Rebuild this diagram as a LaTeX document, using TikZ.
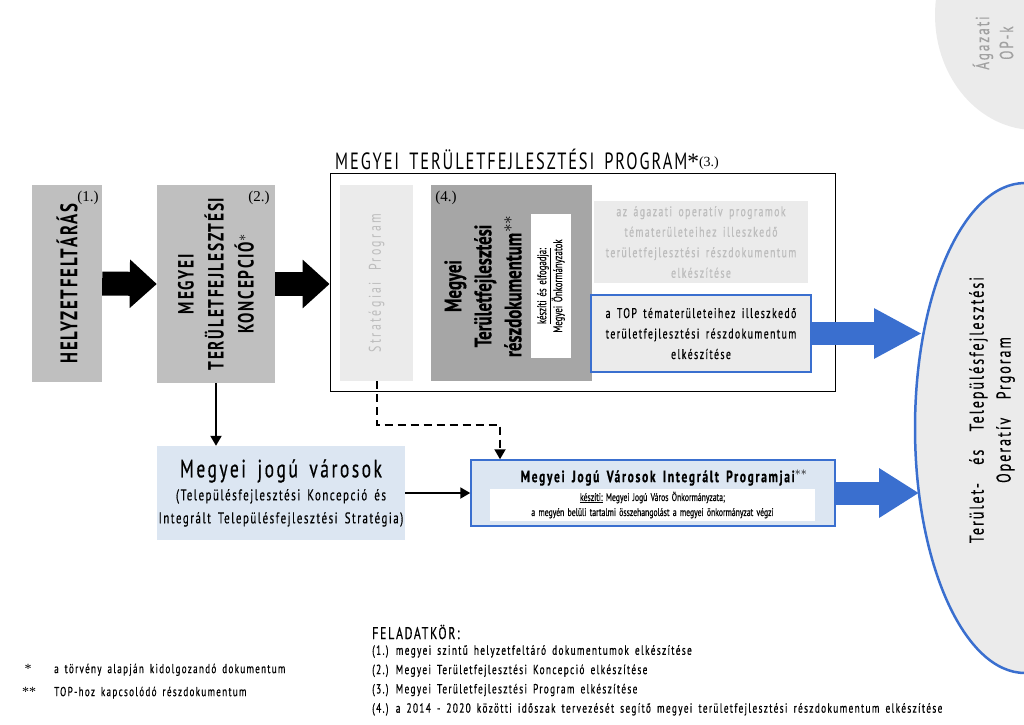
\documentclass[tikz,border=0pt]{standalone}
\usepackage{fontspec}
\setmainfont{PT Sans}[FakeStretch=0.7,WordSpace=1.6,LetterSpace=10,FakeBold=0.5]
\newfontfamily\tightfont{PT Sans}[FakeStretch=0.7,WordSpace=1.6,FakeBold=0.5]
\newfontfamily\capsfont{PT Sans}[FakeStretch=0.7,LetterSpace=8,WordSpace=1.6]
\newfontfamily\widefont{PT Sans}[FakeStretch=0.7,LetterSpace=14,WordSpace=2]
\newfontfamily\numfont{Liberation Serif}
\usetikzlibrary{shapes.geometric,arrows.meta,positioning}
\definecolor{tfgray}{HTML}{BFBFBF}
\definecolor{tfdark}{HTML}{A6A6A6}
\definecolor{tflight}{HTML}{EBEBEB}
\definecolor{tftext}{HTML}{BDBDBD}
\definecolor{tfblue}{HTML}{3A6FCF}
\definecolor{tfsky}{HTML}{DCE6F2}
\tikzstyle{phase}=[rectangle,rotate=90,fill=tfgray,text centered,align=center,inner sep=0pt]
\tikzstyle{faded}=[rectangle,fill=tflight,text=tftext,text centered,align=center,inner sep=0pt]
\tikzstyle{topbox}=[rectangle,draw=tfblue,line width=1.8pt,fill=tflight,text centered,align=center,inner sep=0pt]
\tikzstyle{city}=[rectangle,fill=tfsky,text centered,align=center,inner sep=0pt]
\tikzstyle{num}=[font=\numfont\fontsize{15}{17}\selectfont,inner sep=0pt]
\tikzstyle{block}=[line width=24pt,-{Triangle[length=27pt,width=47pt]}]
\tikzstyle{bluearrow}=[tfblue,line width=23pt,-{Triangle[length=48pt,width=47pt]}]
\tikzstyle{arrow}=[line width=2pt,-{Triangle[length=10pt,width=11pt]}]
\tikzstyle{dasharrow}=[line width=2pt,dash pattern=on 8pt off 5pt,-{Triangle[length=10pt,width=11pt]}]

\begin{document}
\begin{tikzpicture}[x=1pt,y=-1pt]
\useasboundingbox (0,0) rectangle (1024,724);
\node(opk)[ellipse,fill=tflight,minimum width=200pt,minimum height=230pt] at (1035,15){};
\node(opktext)[rotate=90,align=center,text=tftext!85!black,font=\fontsize{19}{24}\selectfont] at (993,43){Ágazati\\OP-k};
\node(tpo)[ellipse,draw=tfblue,line width=2.5pt,fill=tflight,minimum width=220pt,minimum height=490pt] at (1025,428){};
\node(tpotext)[rotate=90,align=center,font=\fontsize{20}{27}\selectfont] at (992,410){Terület-\ \ és\ \ Településfejlesztési\\Operatív\ \ Prgoram};

\node(helyzet)[phase,minimum width=197pt,minimum height=70pt,font=\capsfont\bfseries\fontsize{24}{30}\selectfont] at (67,283.5){HELYZETFELTÁRÁS};
\node(koncepcio)[phase,minimum width=198pt,minimum height=118pt,font=\capsfont\bfseries\fontsize{22}{30}\selectfont] at (216,284){MEGYEI\\TERÜLETFEJLESZTÉSI\\KONCEPCIÓ$^{*}$};
\node(n1)[num] at (88,198){(1.)};
\node(n2)[num] at (259,198){(2.)};

\node(mtp)[draw,line width=0.8pt,minimum width=505pt,minimum height=218pt] at (582.5,282){};
\node(mtptitle)[anchor=south west,inner sep=0pt,font=\capsfont\fontsize{23.5}{26}\selectfont] at (335,170){MEGYEI TERÜLETFEJLESZTÉSI PROGRAM{\numfont*}\raisebox{3pt}{\numfont\fontsize{14}{16}\selectfont(3.)}};
\node(strat)[faded,rotate=90,minimum width=196pt,minimum height=73pt,font=\widefont\fontsize{17}{18}\selectfont] at (376.5,283){Stratégiai Program};
\node(resz)[rectangle,fill=tfdark,minimum width=161pt,minimum height=196pt] at (511.5,283){};
\node(resztext)[rotate=90,align=center,font=\tightfont\bfseries\fontsize{24}{30}\selectfont] at (483,286){Megyei\\Területfejlesztési\\részdokumentum$^{**}$};
\node(n4)[num] at (446,198){(4.)};
\node(keszit)[rectangle,rotate=90,fill=white,minimum width=144pt,minimum height=40pt,inner sep=0pt,align=center,font=\tightfont\fontsize{12.5}{16}\selectfont] at (551,286){\underline{készíti és elfogadja:}\\Megyei Önkormányzatok};
\node(agazati)[faded,minimum width=214pt,minimum height=82pt,font=\fontsize{14}{20.5}\selectfont] at (701,242){az ágazati operatív programok\\tématerületeihez illeszkedő\\területfejlesztési részdokumentum\\elkészítése};
\node(top)[topbox,minimum width=220pt,minimum height=77pt,font=\fontsize{14}{20.5}\selectfont] at (701,333.5){a TOP tématerületeihez illeszkedő\\területfejlesztési részdokumentum\\elkészítése};

\node(mjvaros)[city,minimum width=248pt,minimum height=94pt,font=\fontsize{15.5}{23}\selectfont] at (281,493){{\fontsize{25}{30}\selectfont Megyei jogú városok}\\(Településfejlesztési Koncepció és\\Integrált Településfejlesztési Stratégia)};
\node(mjvip)[city,draw=tfblue,line width=1.5pt,minimum width=364pt,minimum height=66pt] at (653,493){};
\node(mjviptitle)[inner sep=0pt,font=\bfseries\fontsize{16.5}{18}\selectfont] at (664,478){Megyei Jogú Városok Integrált Programjai$^{**}$};
\node(mjvipkeszit)[rectangle,fill=white,minimum width=325pt,minimum height=32pt,inner sep=0pt,align=center,font=\tightfont\fontsize{11}{15}\selectfont] at (652.5,505){\underline{készíti:} Megyei Jogú Város Önkormányzata;\\a megyén belüli tartalmi összehangolást a megyei önkormányzat végzi};

\coordinate(dashbend) at (500,425);
\coordinate(tpoin1) at (922,333.5);
\coordinate(tpoin2) at (919,493);
\draw[block](helyzet.south)--(koncepcio.north);
\draw[block](koncepcio.south)--(koncepcio.south-|mtp.west);
\draw[arrow](koncepcio.west)--(koncepcio.west|-mjvaros.north);
\draw[arrow](mjvaros.east)--(mjvip.west);
\draw[dasharrow](strat.west)|-(dashbend)--(dashbend|-mjvip.north);
\draw[bluearrow](top.east)--(tpoin1);
\draw[bluearrow,-{Triangle[length=40pt,width=47pt]}](mjvip.east)--(tpoin2);

\node(jelmagy)[anchor=west,inner sep=0pt,font=\fontsize{13}{23}\selectfont] at (22,680){\begin{tabular}{@{}l@{\hspace{18pt}}l@{}}{\numfont\fontsize{14}{14}\selectfont\,*}&a törvény alapján kidolgozandó dokumentum\\{\numfont\fontsize{14}{14}\selectfont**}&TOP-hoz kapcsolódó részdokumentum\end{tabular}};
\node(feladat)[anchor=west,inner sep=0pt,font=\fontsize{17}{20}\selectfont] at (372,632){FELADATKÖR:};
\node(feladatlista)[anchor=north west,inner sep=0pt,align=left,font=\fontsize{13.3}{19.3}\selectfont] at (372,645){(1.) megyei szintű helyzetfeltáró dokumentumok elkészítése\\(2.) Megyei Területfejlesztési Koncepció elkészítése\\(3.) Megyei Területfejlesztési Program elkészítése\\(4.) a 2014 - 2020 közötti időszak tervezését segítő megyei területfejlesztési részdokumentum elkészítése};
\end{tikzpicture}
\end{document}
